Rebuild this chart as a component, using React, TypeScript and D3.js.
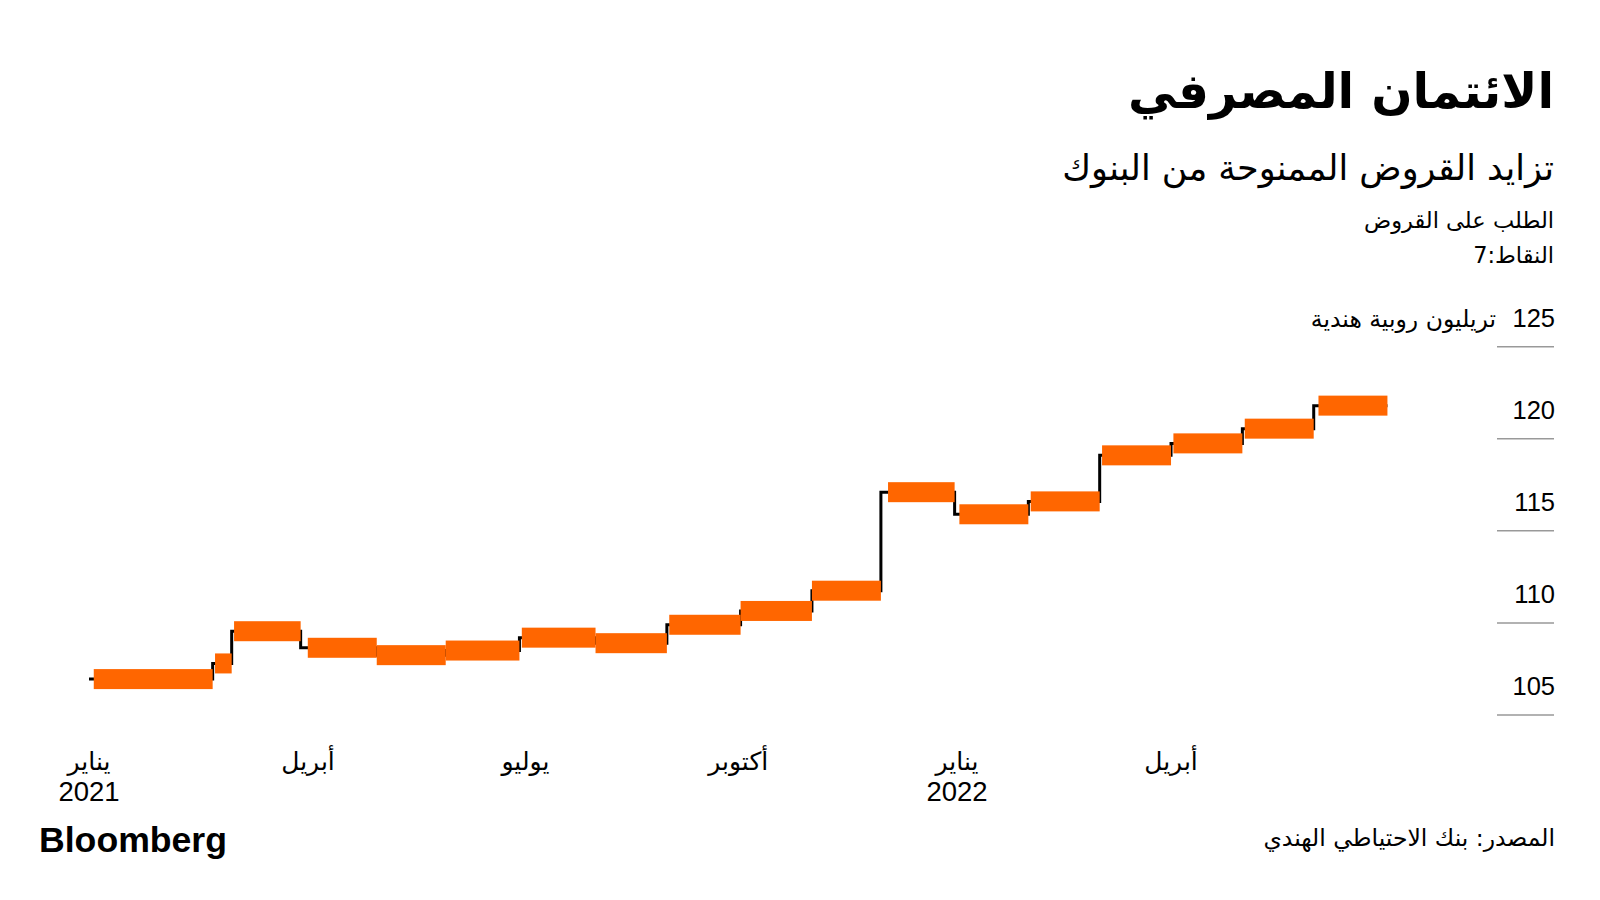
import React from "react";
import * as d3 from "d3";

// ---- Data ----
const periodStart = [
  "2021-01-03", "2021-02-23", "2021-03-03", "2021-04-03", "2021-05-02", "2021-05-31",
  "2021-07-02", "2021-08-02", "2021-09-02", "2021-10-02", "2021-11-01", "2021-12-03",
  "2022-01-02", "2022-02-01", "2022-03-03", "2022-04-02", "2022-05-02", "2022-06-02",
];
const periodEnd = [
  "2021-02-22", "2021-03-02", "2021-03-31", "2021-05-02", "2021-05-31", "2021-07-01",
  "2021-08-02", "2021-09-01", "2021-10-02", "2021-11-01", "2021-11-30", "2021-12-31",
  "2022-01-31", "2022-03-02", "2022-04-01", "2022-05-01", "2022-05-31", "2022-07-01",
];
const creditValues = [
  106.95, 107.8, 109.55, 108.65, 108.25, 108.5,
  109.2, 108.9, 109.9, 110.65, 111.75, 117.1,
  115.9, 116.6, 119.1, 119.75, 120.55, 121.8,
];
const lineStart = "2021-01-01";

const yTicks = [105, 110, 115, 120, 125];
const xTickDates = ["2021-01-01", "2021-04-01", "2021-07-01", "2021-10-01", "2022-01-01", "2022-04-01"];
const xTickMonths = ["يناير", "أبريل", "يوليو", "أكتوبر", "يناير", "أبريل"];
const xTickYears = ["2021", "", "", "", "2022", ""];

const titleText = "الائتمان المصرفي";
const subtitleText = "تزايد القروض الممنوحة من البنوك";
const noteText1 = "الطلب على القروض";
const noteText2 = "النقاط:7";
const unitText = "تريليون روبية هندية";
const sourceText = "المصدر: بنك الاحتياطي الهندي";

const ORANGE = "#ff6600";
const ARABIC = "'DejaVu Sans', 'Noto Sans', sans-serif";
const LATIN = "'Liberation Sans', Arial, sans-serif";

export default function App() {
  const parse = d3.timeParse("%Y-%m-%d");
  const x = d3
    .scaleTime()
    .domain([parse("2021-01-01") as Date, parse("2022-01-01") as Date])
    .range([89, 957]);
  const y = d3.scaleLinear().domain([105, 125]).range([715, 346.7]);

  const starts = periodStart.map((s) => parse(s) as Date);
  const ends = periodEnd.map((s) => parse(s) as Date);

  const pts: [number, number][] = [[x(parse(lineStart) as Date), y(creditValues[0])]];
  ends.forEach((e, i) => pts.push([x(e), y(creditValues[i])]));
  const linePath = d3.line().curve(d3.curveStepBefore)(pts) || "";

  const barH = 20;

  return (
    <svg
      width={1600}
      height={900}
      style={{ position: "absolute", left: 0, top: 0, background: "#fff" }}
    >
      <rect x={0} y={0} width={1600} height={900} fill="#fff" />

      {/* Title block */}
      <text x={1554} y={108} direction="rtl" textAnchor="start" fontFamily={ARABIC} fontWeight="bold" fontSize={48.5} fill="#000">
        {titleText}
      </text>
      <text x={1554} y={180} direction="rtl" textAnchor="start" fontFamily={ARABIC} fontSize={35} fill="#000">
        {subtitleText}
      </text>
      <text x={1554} y={228} direction="rtl" textAnchor="start" fontFamily={ARABIC} fontSize={22.5} fill="#000">
        {noteText1}
      </text>
      <text x={1554} y={263} direction="rtl" textAnchor="start" fontFamily={ARABIC} fontSize={22.5} fill="#000">
        {noteText2}
      </text>

      {/* Y axis gridlines & labels */}
      {yTicks.map((t) => (
        <g key={t}>
          <line x1={1497} x2={1554} y1={y(t)} y2={y(t)} stroke="#999" strokeWidth={1.5} />
          <text x={1555} y={y(t) - 20} textAnchor="end" fontFamily={LATIN} fontSize={25.5} fill="#000">
            {t}
          </text>
        </g>
      ))}
      <text x={1496} y={y(125) - 20} direction="rtl" textAnchor="start" fontFamily={ARABIC} fontSize={23.5} fill="#000">
        {unitText}
      </text>

      {/* Step line */}
      <path d={linePath} fill="none" stroke="#000" strokeWidth={3} />

      {/* Orange period bars */}
      {creditValues.map((v, i) => (
        <rect
          key={i}
          x={x(starts[i])}
          y={y(v) - barH / 2}
          width={Math.max(0, x(ends[i]) - x(starts[i]))}
          height={barH}
          fill={ORANGE}
        />
      ))}

      {/* X axis labels */}
      {xTickDates.map((d, i) => {
        const xx = x(parse(d) as Date);
        return (
          <g key={d + i}>
            <text x={xx + (i === 1 ? 5 : i === 2 ? 6 : 0)} y={770} textAnchor="middle" fontFamily={ARABIC} fontSize={25} fill="#000">
              {xTickMonths[i]}
            </text>
            {xTickYears[i] && (
              <text x={xx} y={801} textAnchor="middle" fontFamily={LATIN} fontSize={27.5} fill="#000">
                {xTickYears[i]}
              </text>
            )}
          </g>
        );
      })}

      {/* Footer */}
      <text x={39} y={852} fontFamily={LATIN} fontWeight="bold" fontSize={35} textLength={188} lengthAdjust="spacingAndGlyphs" fill="#000">
        Bloomberg
      </text>
      <text x={1555} y={846} direction="rtl" textAnchor="start" fontFamily={ARABIC} fontSize={23.5} fill="#000">
        {sourceText}
      </text>
    </svg>
  );
}
